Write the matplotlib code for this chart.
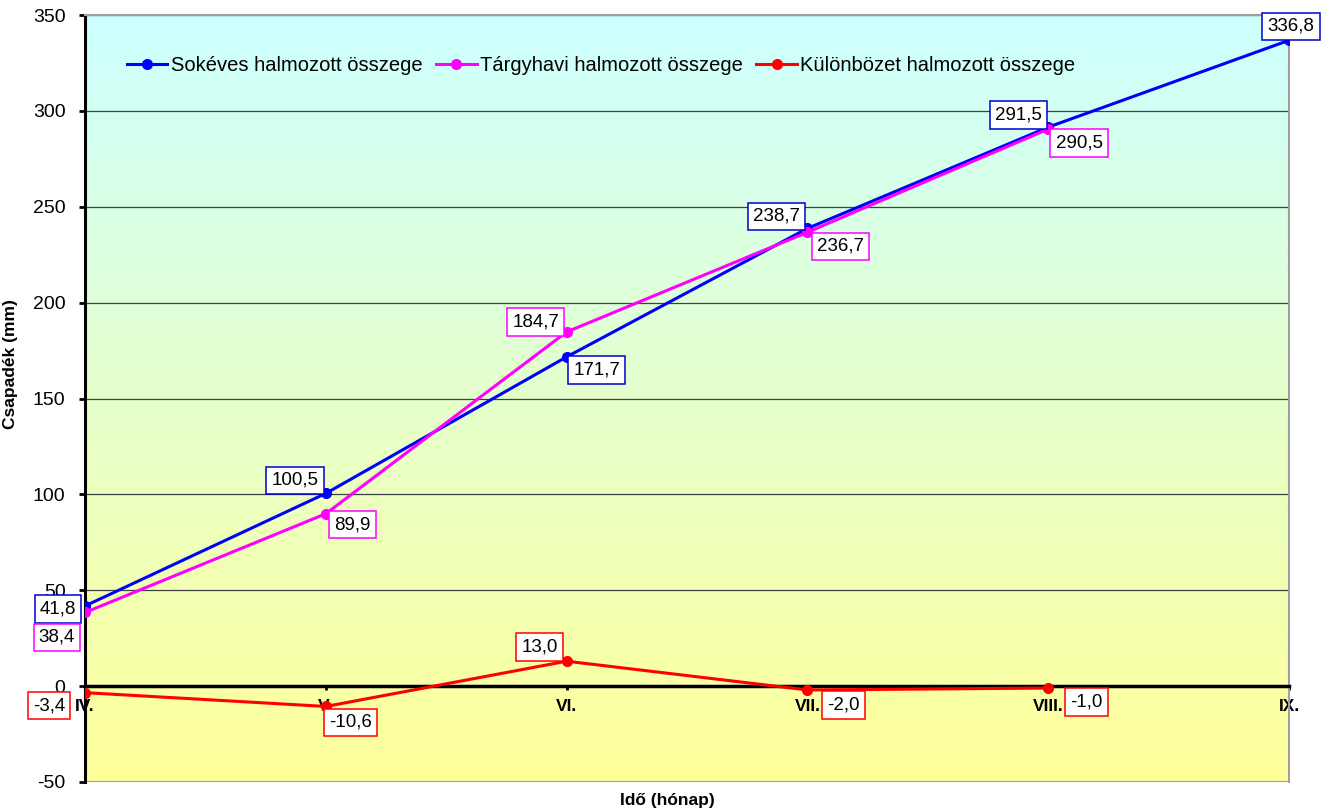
import matplotlib
matplotlib.use("Agg")
import matplotlib.pyplot as plt
import numpy as np
from matplotlib.colors import LinearSegmentedColormap

plt.rcParams['font.family'] = ['Liberation Sans', 'DejaVu Sans']
plt.rcParams['axes.unicode_minus'] = False

# --- data ---
months = ["IV.", "V.", "VI.", "VII.", "VIII.", "IX."]
sokeves = [41.8, 100.5, 171.7, 238.7, 291.5, 336.8]
targyhavi = [38.4, 89.9, 184.7, 236.7, 290.5]
kulonbozet = [-3.4, -10.6, 13.0, -2.0, -1.0]

# label offsets (pixels) for each data label
off_sok = [(-27, -3), (-31, 13), (30, -13), (-31, 12), (-30, 12), (2, 14)]
off_targy = [(-28, -25), (27, -11), (-31, 10), (33, -14), (31, -14)]
off_kul = [(-36, -13), (25, -16), (-27, 14), (36, -15), (38, -14)]

fig = plt.figure(figsize=(13.35, 8.11), dpi=100)
ax = fig.add_axes([85 / 1335, 29 / 811, 1204 / 1335, 767 / 811])

ax.set_xlim(0, 5)
ax.set_ylim(-50, 350)

# gradient background
cmap = LinearSegmentedColormap.from_list("bg", ["#FFFF99", "#CCFFFF"])
grad = np.linspace(0, 1, 256).reshape(-1, 1)
ax.imshow(grad, extent=[0, 5, -50, 350], origin="lower", aspect="auto",
          cmap=cmap, zorder=0)

for yv in range(50, 351, 50):
    ax.axhline(yv, color="#404040", lw=0.9, zorder=1)
ax.axhline(-50, color="#A0A0A0", lw=1.5, zorder=1)

x_all = np.arange(len(months))

ax.plot(x_all[:len(sokeves)], sokeves, color="#0000FF", lw=2.2, marker="o",
        ms=7, label="Sokéves halmozott összege", zorder=4)
ax.plot(x_all[:len(targyhavi)], targyhavi, color="#FF00FF", lw=2.2, marker="o",
        ms=7, label="Tárgyhavi halmozott összege", zorder=5)
ax.plot(x_all[:len(kulonbozet)], kulonbozet, color="#FF0000", lw=2.2, marker="o",
        ms=7, label="Különbözet halmozott összege", zorder=6)


def fmt(v):
    return f"{v:.1f}".replace(".", ",")


def labels(vals, offs, col):
    for i, (v, o) in enumerate(zip(vals, offs)):
        ax.annotate(fmt(v), (i, v), xytext=o, textcoords="offset pixels",
                    ha="center", va="center", fontsize=13.5, zorder=8,
                    bbox=dict(boxstyle="square,pad=0.28", fc="white", ec=col, lw=1.1))


labels(sokeves, off_sok, "#0000CC")
labels(targyhavi, off_targy, "#FF00FF")
labels(kulonbozet, off_kul, "#FF0000")

# spines
ax.spines["left"].set_color("black")
ax.spines["left"].set_linewidth(2.2)
ax.spines["bottom"].set_position(("data", 0))
ax.spines["bottom"].set_color("black")
ax.spines["bottom"].set_linewidth(2.5)
ax.spines["bottom"].set_zorder(3)
for s in ["top", "right"]:
    ax.spines[s].set_color("#A0A0A0")
    ax.spines[s].set_linewidth(1.5)

ax.set_yticks(range(-50, 351, 50))
ax.tick_params(axis="y", direction="out", length=4, width=2, labelsize=14, pad=10)
ax.set_xticks(x_all)
ax.set_xticklabels(months, fontsize=12.5, fontweight="bold")
ax.tick_params(axis="x", direction="out", length=3, width=2, pad=6)

ax.set_ylabel("Csapadék (mm)", fontsize=12.5, fontweight="bold")
ax.yaxis.set_label_coords(-0.056, 0.545)
fig.text(667 / 1335, 1 - 800 / 811, "Idő (hónap)", ha="center", va="center",
         fontsize=12.5, fontweight="bold")

ax.legend(loc="upper left", bbox_to_anchor=(0.02, 0.97), ncol=3, frameon=False,
          fontsize=14.5, handlelength=2.0, handletextpad=0.15, columnspacing=0.7,
          markerscale=1.0)

fig.savefig("out.png", dpi=100, facecolor="white")
